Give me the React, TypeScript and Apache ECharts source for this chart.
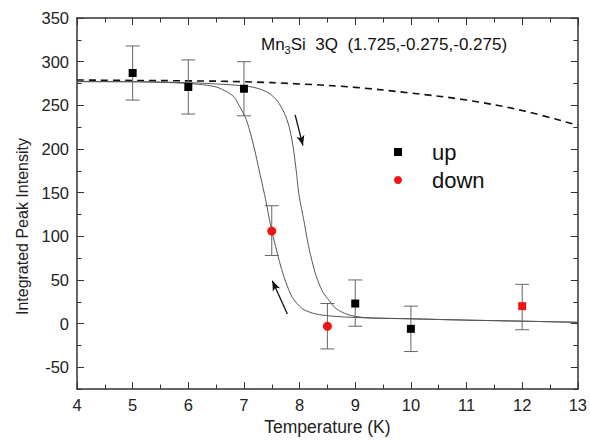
import React, { useEffect, useRef } from "react";
import * as echarts from "echarts";

// ---- data ----
const upTemps = [5, 6, 7, 9, 10, 12];
const upValues = [287, 271, 269, 23, -6, 20];
const upErrLow = [256, 240, 238, -3, -32, -7];
const upErrHigh = [318, 302, 300, 50, 20, 45];
const redMarkedTemps = [12];

const downTemps = [7.5, 8.5];
const downValues = [106, -3];
const downErrLow = [78, -29];
const downErrHigh = [135, 23];

// cooling fit (left sigmoid)
const coolFitT = [4, 5, 6, 6.5, 6.8, 6.92, 7.04, 7.13, 7.21, 7.3, 7.39, 7.48, 7.57, 7.66, 7.75, 7.87, 8.05, 8.29, 8.6, 9, 10, 11, 12, 13];
const coolFitV = [277, 277, 275, 271, 261, 249, 234, 215, 194, 168, 142, 112, 88, 66, 48, 30, 17, 11, 8.5, 7, 5.5, 4, 2.8, 1.5];

// warming fit (right sigmoid)
const warmFitT = [4, 5, 6, 6.5, 7.04, 7.27, 7.45, 7.6, 7.72, 7.81, 7.88, 7.94, 7.99, 8.08, 8.17, 8.29, 8.41, 8.5, 8.64, 8.8, 8.94, 9.24, 10, 11, 12, 13];
const warmFitV = [277.5, 277, 276, 274.5, 272, 269, 264, 255, 242, 226, 204, 175, 147, 117, 86, 56, 37, 29, 18, 12, 9, 6.5, 5.5, 4, 2.8, 1.5];

// dashed reference curve
const dashT = [4, 5, 6, 7, 8, 9, 10, 11, 12, 13];
const dashV = [279, 278.5, 278, 277, 274.5, 270.5, 264, 256, 244, 227];

// arrows [T0, V0] -> [T1, V1] (head at the end)
const arrowDown = [[7.92, 239], [8.06, 204]];
const arrowUp = [[7.78, 11], [7.51, 49]];

const yTickValues = [-50, 0, 50, 100, 150, 200, 250, 300, 350];

const zip = (a: number[], b: number[]) => a.map((v, i) => [v, b[i]]);

export default function App() {
  const ref = useRef<HTMLDivElement>(null);

  useEffect(() => {
    if (!ref.current) return;
    const chart = echarts.init(ref.current, null, { renderer: "svg" });

    const axisColor = "#333";
    const labelColor = "#222";
    const font = "Liberation Sans, Arial, sans-serif";
    const red = "#f01414";

    const errData = [
      ...upTemps.map((t, i) => [t, upErrLow[i], upErrHigh[i]]),
      ...downTemps.map((t, i) => [t, downErrLow[i], downErrHigh[i]]),
    ];

    const baseY = {
      type: "value" as const,
      min: -75,
      max: 350,
      splitLine: { show: false },
    };
    const baseX = {
      type: "value" as const,
      min: 4,
      max: 13,
      interval: 1,
      splitLine: { show: false },
      minorSplitLine: { show: false },
    };
    const majorLen = 7;
    const minorLen = 4.5;

    const option: any = {
      animation: false,
      backgroundColor: "#fff",
      textStyle: { fontFamily: font },
      grid: { left: 77, right: 10, top: 18, bottom: 47, containLabel: false },
      title: {
        left: 261,
        top: 34,
        padding: 0,
        text: "{a|Mn}{s|3}{a|Si  3Q  (1.725,-0.275,-0.275)}",
        textStyle: {
          fontWeight: "normal",
          rich: {
            a: { fontSize: 17, color: "#111", fontFamily: font, fontWeight: "normal" },
            s: { fontSize: 11, color: "#111", fontFamily: font, fontWeight: "normal", padding: [10, 0, 0, 0] },
          },
        },
      },
      legend: {
        orient: "vertical",
        left: 394,
        top: 141,
        padding: 0,
        itemWidth: 8,
        itemHeight: 8,
        itemGap: 6,
        selectedMode: false,
        textStyle: { fontSize: 22, color: "#111", fontFamily: font, padding: [0, 0, 0, 25] },
        data: [
          { name: "up", icon: "rect", itemStyle: { color: "#000" } },
          { name: "down", icon: "circle", itemStyle: { color: red } },
        ],
      },
      xAxis: [
        {
          ...baseX,
          position: "bottom",
          name: "Temperature (K)",
          nameLocation: "middle",
          nameGap: 20,
          nameTextStyle: { fontSize: 17.5, color: labelColor, fontFamily: font },
          axisLine: { show: true, onZero: false, lineStyle: { color: axisColor, width: 1.5 } },
          axisTick: { show: true, inside: true, length: majorLen, lineStyle: { color: axisColor } },
          minorTick: { show: true, splitNumber: 2, length: minorLen, lineStyle: { color: axisColor } },
          axisLabel: { fontSize: 16.5, color: labelColor, margin: 7, fontFamily: font },
        },
        {
          ...baseX,
          position: "top",
          axisLine: { show: true, onZero: false, lineStyle: { color: axisColor, width: 1.5 } },
          axisTick: { show: true, inside: true, length: majorLen, lineStyle: { color: axisColor } },
          minorTick: { show: true, splitNumber: 2, length: minorLen, lineStyle: { color: axisColor } },
          axisLabel: { show: false },
        },
      ],
      yAxis: [
        {
          ...baseY,
          position: "left",
          name: "Integrated Peak Intensity",
          nameLocation: "middle",
          nameGap: 45,
          nameTextStyle: { fontSize: 16, color: labelColor, fontFamily: font, padding: [0, 46, 0, 0] },
          axisLine: { show: true, onZero: false, lineStyle: { color: axisColor, width: 1.5 } },
          axisTick: { show: true, inside: true, length: majorLen, customValues: yTickValues, lineStyle: { color: axisColor } },
          axisLabel: { fontSize: 16.5, color: labelColor, margin: 8, customValues: yTickValues, fontFamily: font },
        },
        {
          ...baseY,
          position: "left",
          interval: 25,
          axisLine: { show: false },
          axisTick: { show: true, inside: true, length: minorLen, lineStyle: { color: axisColor } },
          axisLabel: { show: false },
        },
        {
          ...baseY,
          position: "right",
          axisLine: { show: true, onZero: false, lineStyle: { color: axisColor, width: 1.5 } },
          axisTick: { show: true, inside: true, length: majorLen, customValues: yTickValues, lineStyle: { color: axisColor } },
          axisLabel: { show: false, customValues: yTickValues },
        },
        {
          ...baseY,
          position: "right",
          interval: 25,
          axisLine: { show: false },
          axisTick: { show: true, inside: true, length: minorLen, lineStyle: { color: axisColor } },
          axisLabel: { show: false },
        },
      ],
      series: [
        {
          name: "dashed",
          type: "line",
          data: zip(dashT, dashV),
          smooth: 0.4,
          showSymbol: false,
          symbol: "none",
          lineStyle: { color: "#111", width: 1.6, type: [7, 5] },
          silent: true,
          z: 2,
        },
        {
          name: "coolFit",
          type: "line",
          data: zip(coolFitT, coolFitV),
          smooth: 0.25,
          symbol: "none",
          lineStyle: { color: "#555", width: 1 },
          silent: true,
          z: 2,
          markLine: {
            silent: true,
            symbol: ["none", "arrow"],
            symbolSize: [6, 10],
            label: { show: false },
            lineStyle: { color: "#111", width: 1.3, type: "solid" },
            data: [
              [{ coord: arrowDown[0] }, { coord: arrowDown[1] }],
              [{ coord: arrowUp[0] }, { coord: arrowUp[1] }],
            ],
          },
        },
        {
          name: "warmFit",
          type: "line",
          data: zip(warmFitT, warmFitV),
          smooth: 0.25,
          symbol: "none",
          lineStyle: { color: "#555", width: 1 },
          silent: true,
          z: 2,
        },
        {
          name: "errors",
          type: "custom",
          data: errData,
          z: 3,
          silent: true,
          renderItem: (params: any, api: any) => {
            const x = api.value(0);
            const lo = api.coord([x, api.value(1)]);
            const hi = api.coord([x, api.value(2)]);
            const w = 7;
            const style = { stroke: "#666", lineWidth: 1 };
            return {
              type: "group",
              children: [
                { type: "line", shape: { x1: lo[0], y1: lo[1], x2: hi[0], y2: hi[1] }, style },
                { type: "line", shape: { x1: lo[0] - w, y1: lo[1], x2: lo[0] + w, y2: lo[1] }, style },
                { type: "line", shape: { x1: hi[0] - w, y1: hi[1], x2: hi[0] + w, y2: hi[1] }, style },
              ],
            };
          },
        },
        {
          name: "up",
          type: "scatter",
          symbol: "rect",
          symbolSize: 8,
          itemStyle: { color: "#000", opacity: 1 },
          z: 5,
          data: upTemps.map((t, i) =>
            redMarkedTemps.includes(t)
              ? { value: [t, upValues[i]], itemStyle: { color: red, opacity: 1 } }
              : [t, upValues[i]]
          ),
        },
        {
          name: "down",
          type: "scatter",
          symbol: "circle",
          symbolSize: 9,
          itemStyle: { color: red, opacity: 1 },
          z: 5,
          data: zip(downTemps, downValues),
        },
      ],
    };

    chart.setOption(option);
    return () => chart.dispose();
  }, []);

  return (
    <div
      ref={ref}
      style={{ position: "fixed", left: 0, top: 0, width: 590, height: 441, background: "#fff" }}
    />
  );
}
